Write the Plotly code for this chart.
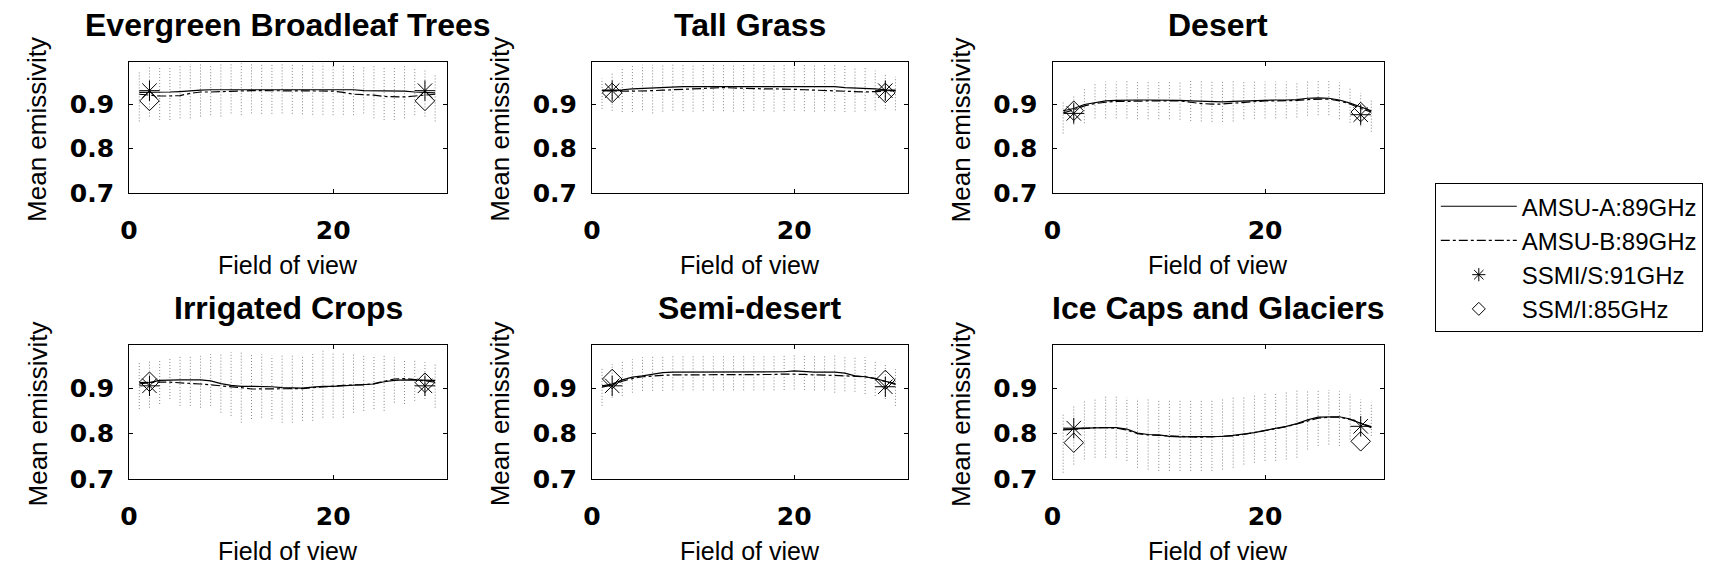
import plotly.graph_objects as go

# ---------------- data ----------------
FOV = list(range(1, 31))
MARKER_FOV = [2, 29]
X_TICKS = [0, 20]
Y_TICKS = [0.7, 0.8, 0.9]
Y_TICK_TEXT = ["0.7", "0.8", "0.9"]

TITLES = ["Evergreen Broadleaf Trees", "Tall Grass", "Desert",
          "Irrigated Crops", "Semi-desert", "Ice Caps and Glaciers"]
LEGEND_NAMES = ["AMSU-A:89GHz", "AMSU-B:89GHz", "SSMI/S:91GHz", "SSM/I:85GHz"]

# Evergreen Broadleaf Trees
evergreen_amsua = [0.926, 0.926, 0.927, 0.927, 0.928, 0.930, 0.931, 0.932, 0.932, 0.933, 0.933, 0.933, 0.933, 0.933, 0.933,
                   0.933, 0.933, 0.933, 0.933, 0.933, 0.933, 0.932, 0.930, 0.930, 0.929, 0.929, 0.929, 0.927, 0.926, 0.925]
evergreen_amsub = [0.922, 0.920, 0.918, 0.918, 0.919, 0.924, 0.927, 0.927, 0.928, 0.929, 0.930, 0.930, 0.930, 0.930, 0.930,
                   0.930, 0.930, 0.930, 0.930, 0.929, 0.926, 0.922, 0.921, 0.920, 0.917, 0.916, 0.916, 0.918, 0.920, 0.922]
evergreen_lo = [0.861, 0.872, 0.864, 0.864, 0.868, 0.868, 0.872, 0.875, 0.872, 0.879, 0.875, 0.879, 0.878, 0.878, 0.879,
                0.878, 0.877, 0.876, 0.876, 0.875, 0.876, 0.875, 0.879, 0.868, 0.864, 0.864, 0.868, 0.875, 0.872, 0.861]
evergreen_hi = [0.972, 0.982, 0.982, 0.982, 0.989, 0.990, 0.990, 0.990, 0.990, 0.991, 0.991, 0.991, 0.991, 0.991, 0.991,
                0.991, 0.991, 0.991, 0.991, 0.990, 0.990, 0.989, 0.986, 0.986, 0.985, 0.985, 0.985, 0.979, 0.975, 0.968]

# Tall Grass
tallgrass_amsua = [0.931, 0.931, 0.932, 0.934, 0.935, 0.936, 0.938, 0.939, 0.939, 0.939, 0.939, 0.939, 0.939, 0.939, 0.939,
                   0.939, 0.939, 0.939, 0.939, 0.939, 0.939, 0.939, 0.939, 0.939, 0.937, 0.936, 0.936, 0.934, 0.932, 0.931]
tallgrass_amsub = [0.930, 0.929, 0.929, 0.929, 0.929, 0.930, 0.931, 0.932, 0.933, 0.935, 0.936, 0.937, 0.937, 0.936, 0.935,
                   0.934, 0.934, 0.934, 0.934, 0.933, 0.932, 0.931, 0.931, 0.930, 0.929, 0.928, 0.927, 0.928, 0.929, 0.930]
tallgrass_lo = [0.889, 0.885, 0.882, 0.882, 0.886, 0.879, 0.883, 0.885, 0.884, 0.883, 0.884, 0.885, 0.884, 0.883, 0.884,
                0.885, 0.884, 0.883, 0.884, 0.885, 0.884, 0.883, 0.884, 0.884, 0.882, 0.883, 0.884, 0.886, 0.889, 0.886]
tallgrass_hi = [0.957, 0.972, 0.979, 0.986, 0.988, 0.988, 0.990, 0.991, 0.991, 0.991, 0.991, 0.991, 0.991, 0.991, 0.991,
                0.991, 0.991, 0.991, 0.991, 0.991, 0.991, 0.991, 0.991, 0.990, 0.989, 0.984, 0.982, 0.975, 0.968, 0.961]

# Desert
desert_amsua = [0.885, 0.890, 0.899, 0.903, 0.907, 0.908, 0.909, 0.909, 0.909, 0.909, 0.909, 0.908, 0.907, 0.906, 0.905,
                0.905, 0.906, 0.907, 0.908, 0.909, 0.909, 0.909, 0.910, 0.913, 0.914, 0.913, 0.909, 0.902, 0.893, 0.885]
desert_amsub = [0.880, 0.887, 0.896, 0.901, 0.904, 0.906, 0.906, 0.907, 0.907, 0.907, 0.907, 0.907, 0.904, 0.901, 0.900,
                0.900, 0.902, 0.904, 0.906, 0.907, 0.907, 0.907, 0.908, 0.910, 0.911, 0.911, 0.907, 0.900, 0.890, 0.882]
desert_lo = [0.834, 0.854, 0.857, 0.868, 0.868, 0.868, 0.868, 0.866, 0.866, 0.866, 0.866, 0.865, 0.862, 0.861, 0.860,
             0.860, 0.861, 0.866, 0.867, 0.868, 0.868, 0.868, 0.870, 0.874, 0.875, 0.875, 0.866, 0.858, 0.850, 0.838]
desert_hi = [0.907, 0.921, 0.936, 0.946, 0.950, 0.950, 0.951, 0.951, 0.951, 0.951, 0.951, 0.951, 0.953, 0.954, 0.954,
             0.954, 0.953, 0.951, 0.950, 0.950, 0.950, 0.950, 0.951, 0.953, 0.954, 0.953, 0.948, 0.938, 0.925, 0.912]

# Irrigated Crops
crops_amsua = [0.909, 0.912, 0.917, 0.918, 0.918, 0.918, 0.918, 0.916, 0.910, 0.906, 0.904, 0.904, 0.904, 0.903, 0.901,
               0.900, 0.900, 0.902, 0.904, 0.904, 0.905, 0.906, 0.908, 0.909, 0.914, 0.917, 0.918, 0.918, 0.918, 0.917]
crops_amsub = [0.912, 0.913, 0.913, 0.913, 0.912, 0.911, 0.909, 0.907, 0.905, 0.904, 0.901, 0.898, 0.898, 0.898, 0.898,
               0.898, 0.899, 0.901, 0.903, 0.905, 0.906, 0.907, 0.907, 0.910, 0.915, 0.920, 0.921, 0.919, 0.916, 0.913]
crops_lo = [0.854, 0.857, 0.865, 0.876, 0.861, 0.861, 0.857, 0.861, 0.846, 0.839, 0.824, 0.832, 0.835, 0.832, 0.824,
            0.824, 0.828, 0.828, 0.835, 0.835, 0.835, 0.846, 0.850, 0.854, 0.850, 0.868, 0.865, 0.872, 0.876, 0.857]
crops_hi = [0.957, 0.960, 0.964, 0.964, 0.971, 0.971, 0.971, 0.975, 0.975, 0.979, 0.979, 0.975, 0.975, 0.971, 0.975,
            0.975, 0.971, 0.975, 0.982, 0.979, 0.979, 0.975, 0.975, 0.971, 0.975, 0.968, 0.964, 0.960, 0.957, 0.953]

# Semi-desert
semidesert_amsua = [0.905, 0.909, 0.918, 0.924, 0.927, 0.931, 0.934, 0.935, 0.935, 0.935, 0.935, 0.935, 0.935, 0.935, 0.935,
                    0.935, 0.935, 0.935, 0.936, 0.938, 0.936, 0.935, 0.935, 0.935, 0.933, 0.927, 0.925, 0.921, 0.915, 0.910]
semidesert_amsub = [0.902, 0.907, 0.915, 0.921, 0.925, 0.927, 0.928, 0.929, 0.929, 0.929, 0.929, 0.929, 0.929, 0.929, 0.929,
                    0.929, 0.929, 0.930, 0.931, 0.931, 0.930, 0.929, 0.929, 0.928, 0.927, 0.926, 0.925, 0.921, 0.914, 0.908]
semidesert_lo = [0.861, 0.879, 0.883, 0.890, 0.894, 0.894, 0.894, 0.895, 0.895, 0.895, 0.895, 0.895, 0.895, 0.895, 0.895,
                 0.895, 0.895, 0.895, 0.896, 0.897, 0.896, 0.895, 0.895, 0.890, 0.893, 0.892, 0.887, 0.883, 0.876, 0.861]
semidesert_hi = [0.946, 0.953, 0.960, 0.964, 0.968, 0.971, 0.972, 0.973, 0.973, 0.973, 0.973, 0.973, 0.973, 0.973, 0.973,
                 0.973, 0.973, 0.973, 0.974, 0.976, 0.974, 0.973, 0.972, 0.975, 0.971, 0.969, 0.968, 0.960, 0.953, 0.942]

# Ice Caps and Glaciers
ice_amsua = [0.810, 0.810, 0.812, 0.813, 0.813, 0.813, 0.810, 0.801, 0.798, 0.797, 0.794, 0.793, 0.793, 0.793, 0.793,
             0.794, 0.796, 0.799, 0.802, 0.807, 0.811, 0.816, 0.822, 0.830, 0.836, 0.837, 0.837, 0.832, 0.822, 0.813]
ice_amsub = [0.808, 0.810, 0.812, 0.813, 0.813, 0.812, 0.808, 0.800, 0.797, 0.796, 0.794, 0.793, 0.792, 0.792, 0.793,
             0.794, 0.795, 0.798, 0.802, 0.806, 0.810, 0.815, 0.821, 0.828, 0.834, 0.836, 0.836, 0.831, 0.823, 0.815]
ice_lo = [0.714, 0.732, 0.743, 0.747, 0.747, 0.747, 0.740, 0.725, 0.721, 0.718, 0.718, 0.718, 0.718, 0.718, 0.718,
          0.721, 0.725, 0.732, 0.736, 0.740, 0.740, 0.743, 0.747, 0.765, 0.773, 0.776, 0.773, 0.787, 0.795, 0.795]
ice_hi = [0.843, 0.861, 0.872, 0.875, 0.883, 0.883, 0.879, 0.877, 0.875, 0.875, 0.875, 0.875, 0.875, 0.875, 0.875,
          0.879, 0.879, 0.883, 0.887, 0.889, 0.891, 0.893, 0.895, 0.896, 0.897, 0.896, 0.893, 0.887, 0.875, 0.868]

# point measurements at FOV 2 and 29
ssmis_evergreen = [0.930, 0.930]
ssmi_evergreen = [0.907, 0.907]
ssmis_tallgrass = [0.930, 0.930]
ssmi_tallgrass = [0.925, 0.925]
ssmis_desert = [0.879, 0.876]
ssmi_desert = [0.885, 0.882]
ssmis_crops = [0.905, 0.905]
ssmi_crops = [0.914, 0.912]
ssmis_semidesert = [0.905, 0.903]
ssmi_semidesert = [0.920, 0.918]
ssmis_ice = [0.812, 0.816]
ssmi_ice = [0.780, 0.783]

# ---------------- layout geometry ----------------
W, H = 1721, 584
COL_PX = [(120.7, 440.7), (586.0, 903.3), (1049.0, 1382.3)]
ROW_PX = [(63.3, 198.3), (354.0, 491.7)]
FONT = "Liberation Sans, Arial, Helvetica, sans-serif"
TICK_FONT = "DejaVu Sans, Liberation Sans, Arial, sans-serif"


def fx(p):
    return p / W


def fy(p):
    return 1 - p / H


panels = [
    (evergreen_amsua, evergreen_amsub, evergreen_lo, evergreen_hi, ssmis_evergreen, ssmi_evergreen),
    (tallgrass_amsua, tallgrass_amsub, tallgrass_lo, tallgrass_hi, ssmis_tallgrass, ssmi_tallgrass),
    (desert_amsua, desert_amsub, desert_lo, desert_hi, ssmis_desert, ssmi_desert),
    (crops_amsua, crops_amsub, crops_lo, crops_hi, ssmis_crops, ssmi_crops),
    (semidesert_amsua, semidesert_amsub, semidesert_lo, semidesert_hi, ssmis_semidesert, ssmi_semidesert),
    (ice_amsua, ice_amsub, ice_lo, ice_hi, ssmis_ice, ssmi_ice),
]

fig = go.Figure()
layout_axes = {}
annotations = []

axis_common = dict(
    showline=True, linecolor="black", linewidth=1, mirror="ticks",
    ticks="inside", ticklen=4, tickcolor="black", tickwidth=1,
    showgrid=False, zeroline=False,
    tickfont=dict(family=TICK_FONT, size=25, color="black", weight="bold"),
)

for i, (amsua, amsub, lo, hi, ssmis, ssmi) in enumerate(panels):
    r, c = divmod(i, 3)
    n = i + 1
    xa = "x" if n == 1 else f"x{n}"
    ya = "y" if n == 1 else f"y{n}"
    x0, x1 = COL_PX[c]
    y0, y1 = ROW_PX[r]

    layout_axes["xaxis" if n == 1 else f"xaxis{n}"] = dict(
        domain=[fx(x0), fx(x1)], range=[0, 31.2], tickvals=X_TICKS,
        anchor=ya, ticklabelstandoff=15, **axis_common)
    layout_axes["yaxis" if n == 1 else f"yaxis{n}"] = dict(
        domain=[fy(y1), fy(y0)], range=[0.7, 0.995], tickvals=Y_TICKS,
        ticktext=Y_TICK_TEXT, anchor=xa, ticklabelstandoff=9, **axis_common)

    # standard deviation bars (dotted)
    ex, ey = [], []
    for f, l, h in zip(FOV, lo, hi):
        ex += [f, f, None]
        ey += [l, h, None]
    fig.add_trace(go.Scatter(x=ex, y=ey, mode="lines", xaxis=xa, yaxis=ya,
                             line=dict(color="#858585", width=1, dash="1px,2px"),
                             showlegend=False, hoverinfo="skip"))
    fig.add_trace(go.Scatter(x=FOV, y=amsua, mode="lines", xaxis=xa, yaxis=ya,
                             line=dict(color="black", width=1.2),
                             name=LEGEND_NAMES[0], legendgroup="a", showlegend=(n == 1)))
    fig.add_trace(go.Scatter(x=FOV, y=amsub, mode="lines", xaxis=xa, yaxis=ya,
                             line=dict(color="black", width=1.2, dash="dashdot"),
                             name=LEGEND_NAMES[1], legendgroup="b", showlegend=(n == 1)))
    fig.add_trace(go.Scatter(x=MARKER_FOV, y=ssmis, mode="markers", xaxis=xa, yaxis=ya,
                             marker=dict(symbol="asterisk-open", size=17, color="black",
                                         line=dict(color="black", width=1)),
                             name=LEGEND_NAMES[2], showlegend=False))
    fig.add_trace(go.Scatter(x=MARKER_FOV, y=ssmi, mode="markers", xaxis=xa, yaxis=ya,
                             marker=dict(symbol="diamond-open", size=15, color="black",
                                         line=dict(color="black", width=1)),
                             name=LEGEND_NAMES[3], showlegend=False))

    cx = fx((x0 + x1) / 2)
    # panel title
    annotations.append(dict(text=TITLES[i], x=cx, y=fy(y0 - 38), xref="paper", yref="paper",
                            xanchor="center", yanchor="middle", showarrow=False,
                            font=dict(family=FONT, size=32, color="black", weight="bold")))
    # x-axis title
    annotations.append(dict(text="Field of view", x=cx, y=fy(y1 + 73.5), xref="paper", yref="paper",
                            xanchor="center", yanchor="middle", showarrow=False,
                            font=dict(family=FONT, size=25, color="black")))
    # y-axis title
    annotations.append(dict(text="Mean emissivity", x=fx(x0 - 92), y=fy((y0 + y1) / 2 + 2),
                            xref="paper", yref="paper", xanchor="center", yanchor="middle",
                            textangle=-90, showarrow=False,
                            font=dict(family=FONT, size=26, color="black")))

# legend-only entries for the point markers
fig.add_trace(go.Scatter(x=[None], y=[None], mode="markers", name=LEGEND_NAMES[2],
                         marker=dict(symbol="asterisk-open", size=11, color="black",
                                     line=dict(color="black", width=1))))
fig.add_trace(go.Scatter(x=[None], y=[None], mode="markers", name=LEGEND_NAMES[3],
                         marker=dict(symbol="diamond-open", size=10, color="black",
                                     line=dict(color="black", width=1))))

fig.update_layout(
    width=W, height=H,
    margin=dict(l=0, r=0, t=0, b=0),
    paper_bgcolor="white", plot_bgcolor="white",
    annotations=annotations,
    legend=dict(x=fx(1433.3), y=fy(188), xanchor="left", yanchor="top",
                bordercolor="black", borderwidth=1, bgcolor="white",
                font=dict(family=FONT, size=24, color="black"),
                itemwidth=76, entrywidth=214, entrywidthmode="pixels",
                traceorder="normal"),
    **layout_axes,
)

fig.write_html("out.html", config={"displayModeBar": False},
               post_script="document.body.style.margin='0';document.body.style.overflow='hidden';")
